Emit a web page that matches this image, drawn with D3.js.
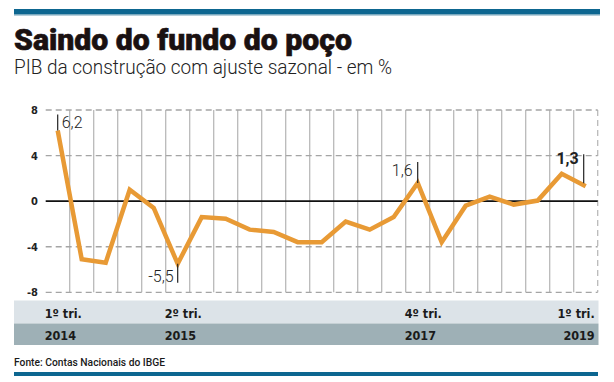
<!DOCTYPE html>
<html>
<head>
<meta charset="utf-8">
<style>
body { margin: 0; background: #fff; }
svg { display: block; }
.title { font-family: Roboto, Lato, sans-serif; font-weight: 900; fill: #1a1111; stroke: #1a1111; stroke-width: 0.6; }
.subtitle { font-family: Roboto, sans-serif; font-weight: 300; fill: #222; }
.yaxis text { font-family: "DejaVu Sans Condensed", sans-serif; font-weight: bold; font-size: 11px; fill: #222; }
.note { font-family: Roboto, sans-serif; font-weight: 300; font-size: 16px; fill: #222; }
.band-label { font-family: "DejaVu Sans Condensed", sans-serif; font-weight: bold; font-size: 12.5px; fill: #1a1a1a; }
.source { font-family: Roboto, sans-serif; font-weight: 500; font-size: 11px; fill: #1a1a1a; }
</style>
</head>
<body>
<svg width="614" height="382"></svg>
<script src="https://d3js.org/d3.v7.min.js"></script>
<script>
// PIB da construcao, variacao trimestral com ajuste sazonal (%)
var values = [6.2, -5.1, -5.4, 1.0, -0.6, -5.5, -1.4, -1.55, -2.5, -2.7, -3.6, -3.6,
              -1.8, -2.5, -1.4, 1.6, -3.6, -0.4, 0.4, -0.3, 0.05, 2.4, 1.3];
var yTicks = [8, 4, 0, -4, -8];
var tickIndex = [0, 5, 15, 22];
var tickTri = ["1º tri.", "2º tri.", "4º tri.", "1º tri."];
var tickYear = ["2014", "2015", "2017", "2019"];
// annotated points
var noteIndex = [0, 5, 15, 22];
var noteText = ["6,2", "-5,5", "1,6", "1,3"];

var svg = d3.select("svg");

var x = d3.scaleBand()
    .domain(d3.range(values.length))
    .range([45.7, 597.7])
    .padding(0);
var y = d3.scaleLinear()
    .domain([-8, 8])
    .range([292.3, 110]);
var cx = function(i){ return x(i) + x.bandwidth() / 2; };

// top + bottom rules
svg.append("rect").attr("x", 14).attr("y", 9).attr("width", 586).attr("height", 5.5).attr("fill", "#0d6690");
svg.append("rect").attr("x", 14).attr("y", 14.5).attr("width", 586).attr("height", 1).attr("fill", "#6f9fb8");
svg.append("rect").attr("x", 14).attr("y", 372).attr("width", 584).attr("height", 4).attr("fill", "#0d6690");

// titles
svg.append("text").attr("class", "title")
    .attr("x", 14).attr("y", 50)
    .attr("font-size", 30)
    .attr("textLength", 338).attr("lengthAdjust", "spacingAndGlyphs")
    .text("Saindo do fundo do poço");
svg.append("text").attr("class", "subtitle")
    .attr("x", 14).attr("y", 74)
    .attr("font-size", 19.5)
    .attr("textLength", 378).attr("lengthAdjust", "spacingAndGlyphs")
    .text("PIB da construção com ajuste sazonal - em %");

// vertical grid at column boundaries
var g = svg.append("g");
g.selectAll("line.vgrid")
  .data(d3.range(1, values.length + 1))
  .enter().append("line")
    .attr("class", "vgrid")
    .attr("x1", function(i){ return i < values.length ? x(i) : x.range()[1]; })
    .attr("x2", function(i){ return i < values.length ? x(i) : x.range()[1]; })
    .attr("y1", y(8)).attr("y2", y(-8))
    .attr("stroke", "#b9b9b9")
    .attr("stroke-width", 1.3)
    .attr("stroke-dasharray", function(i){ return i < values.length ? null : "6,4"; });

// horizontal dashed grid
g.selectAll("line.hgrid")
  .data(yTicks.filter(function(d){ return d !== 0; }))
  .enter().append("line")
    .attr("class", "hgrid")
    .attr("x1", x.range()[0]).attr("x2", x.range()[1])
    .attr("y1", y).attr("y2", y)
    .attr("stroke", "#a5a5a5")
    .attr("stroke-width", 1.3)
    .attr("stroke-dasharray", "6,4");

// y axis labels
var yAxis = d3.axisLeft(y).tickValues(yTicks).tickSize(0).tickPadding(0)
    .tickFormat(function(d){ return d; });
svg.append("g").attr("class", "yaxis")
    .attr("transform", "translate(38,0)")
    .call(yAxis)
    .call(function(s){ s.select(".domain").remove(); });

// zero line
svg.append("line")
    .attr("x1", x.range()[0]).attr("x2", x.range()[1])
    .attr("y1", y(0)).attr("y2", y(0))
    .attr("stroke", "#111").attr("stroke-width", 1.6);

// series
var line = d3.line()
    .x(function(d, i){ return cx(i); })
    .y(function(d){ return y(d); });
svg.append("path")
    .datum(values)
    .attr("d", line)
    .attr("fill", "none")
    .attr("stroke", "#e89a35")
    .attr("stroke-width", 4.5)
    .attr("stroke-linejoin", "miter");

// annotations
var notes = svg.append("g");
noteIndex.forEach(function(idx, k){
  var px = cx(idx), py = y(values[idx]);
  var lx, y1, y2, tx, ty, anchor, bold = false;
  if (k === 0) { lx = px; y1 = py; y2 = py - 16; tx = px + 4; ty = py - 3; anchor = "start"; }
  if (k === 1) { lx = px; y1 = py; y2 = py + 19; tx = px - 4; ty = py + 18; anchor = "end"; }
  if (k === 2) { lx = px; y1 = py; y2 = py - 21; tx = px - 5; ty = py - 7; anchor = "end"; }
  if (k === 3) { lx = px - 2; y1 = py - 3; y2 = py - 32; tx = px - 7; ty = py - 22; anchor = "end"; bold = true; }
  notes.append("line")
      .attr("x1", lx).attr("x2", lx).attr("y1", y1).attr("y2", y2)
      .attr("stroke", "#222").attr("stroke-width", 1.2);
  notes.append("text").attr("class", "note")
      .attr("x", tx).attr("y", ty)
      .attr("text-anchor", anchor)
      .style("font-weight", bold ? 700 : 300)
      .text(noteText[k]);
});

// bottom bands
svg.append("rect").attr("x", 14).attr("y", 300.5).attr("width", 584.5).attr("height", 23).attr("fill", "#dce3e8");
svg.append("rect").attr("x", 14).attr("y", 323.5).attr("width", 584.5).attr("height", 21.5).attr("fill", "#9eb0b6");

var labels = svg.append("g");
tickIndex.forEach(function(idx, k){
  var last = idx === values.length - 1;
  var lx = last ? x.range()[1] - 3 : x(idx) - 1;
  var anchor = last ? "end" : "start";
  labels.append("text").attr("class", "band-label")
      .attr("x", lx).attr("y", 318).attr("text-anchor", anchor)
      .text(tickTri[k]);
  labels.append("text").attr("class", "band-label")
      .attr("x", lx).attr("y", 340).attr("text-anchor", anchor)
      .text(tickYear[k]);
});

svg.append("text").attr("class", "source")
    .attr("x", 14).attr("y", 366)
    .attr("textLength", 151).attr("lengthAdjust", "spacingAndGlyphs")
    .text("Fonte: Contas Nacionais do IBGE");
</script>
</body>
</html>
